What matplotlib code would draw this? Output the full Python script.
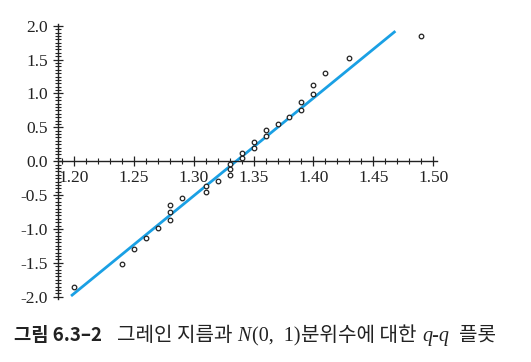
import matplotlib
matplotlib.use("Agg")
import matplotlib.pyplot as plt
from matplotlib.ticker import MultipleLocator, FormatStrFormatter

# Data: grain diameters vs N(0,1) quantiles
diameters = [1.20, 1.24, 1.25, 1.26, 1.27, 1.28, 1.28, 1.28, 1.29, 1.31,
             1.31, 1.32, 1.33, 1.33, 1.33, 1.34, 1.34, 1.35, 1.35, 1.36,
             1.36, 1.37, 1.38, 1.39, 1.39, 1.40, 1.40, 1.41, 1.43, 1.49]
quantiles = [-1.85, -1.52, -1.30, -1.13, -0.99, -0.87, -0.75, -0.65, -0.55, -0.46,
             -0.37, -0.29, -0.20, -0.12, -0.04, 0.04, 0.12, 0.20, 0.29, 0.37,
             0.46, 0.55, 0.65, 0.75, 0.87, 0.99, 1.13, 1.30, 1.52, 1.85]
fit_x = [1.1975, 1.4685]
fit_y = [-1.99, 1.92]

x_ticks = [1.20, 1.25, 1.30, 1.35, 1.40, 1.45, 1.50]
y_ticks = [-2.0, -1.5, -1.0, -0.5, 0.0, 0.5, 1.0, 1.5, 2.0]

W, H = 531, 362
fig = plt.figure(figsize=(W / 100, H / 100), dpi=100)
ax = fig.add_axes([58 / W, 1 - 298.7 / H, (436.7 - 58) / W, 275 / H])

ax.plot(fit_x, fit_y, color="#1aa0e4", lw=2.0, solid_capstyle="butt", zorder=2)
ax.plot(diameters, quantiles, linestyle="none", marker="o", ms=3.3, mew=0.9,
        mfc="white", mec="#222222", zorder=3)

ax.set_xlim(1.1866, 1.503)
ax.set_ylim(-2.03, 2.03)

for s in ("top", "right"):
    ax.spines[s].set_visible(False)
ax.spines["bottom"].set_position(("data", 0))
ax.spines["left"].set_position(("data", 1.1866))
for s in ("bottom", "left"):
    ax.spines[s].set_linewidth(1.0)
    ax.spines[s].set_color("#222222")

ax.set_xticks(x_ticks)
ax.set_yticks(y_ticks)
ax.xaxis.set_major_formatter(FormatStrFormatter("%.2f"))
ax.yaxis.set_major_formatter(FormatStrFormatter("%.1f"))
ax.xaxis.set_minor_locator(MultipleLocator(0.01))
ax.yaxis.set_minor_locator(MultipleLocator(0.05))

ax.tick_params(which="major", direction="inout", length=7, width=0.9, color="#222222")
ax.tick_params(which="minor", direction="inout", length=4, width=0.8, color="#222222")
ax.tick_params(axis="x", which="major", pad=3)
ax.tick_params(axis="y", which="major", pad=4)

for lab in ax.get_xticklabels() + ax.get_yticklabels():
    lab.set_fontfamily("Liberation Serif")
    lab.set_fontsize(12.5)
    lab.set_color("#222222")

# Caption built from pieces
fig.canvas.draw()
renderer = fig.canvas.get_renderer()
pieces = [
    ("그림 6.3–2", dict(family=["Noto Sans CJK KR"], weight="bold"), 13.5),
    ("   ", dict(family=["Noto Sans CJK KR"]), 14.5),
    ("그레인 지름과 ", dict(family=["Noto Sans CJK KR"]), 14.5),
    ("N", dict(family=["Liberation Serif"], style="italic"), 14.5),
    ("(0,  1)", dict(family=["Liberation Serif"]), 14.5),
    ("분위수에 대한 ", dict(family=["Noto Sans CJK KR"]), 14.5),
    ("q-q", dict(family=["Liberation Serif"], style="italic"), 14.5),
    ("  플롯", dict(family=["Noto Sans CJK KR"]), 14.5),
]
x_px = 14.0
y_base = 1 - 341 / H
for txt, kw, size in pieces:
    t = fig.text(x_px / W, y_base, txt, fontsize=size, va="baseline", ha="left",
                 color="#222222", **kw)
    bb = t.get_window_extent(renderer)
    if txt.strip() == "":
        x_px += bb.width if bb.width > 0 else 14
    else:
        x_px = bb.x1 + 1

fig.savefig("out.png", dpi=100)
